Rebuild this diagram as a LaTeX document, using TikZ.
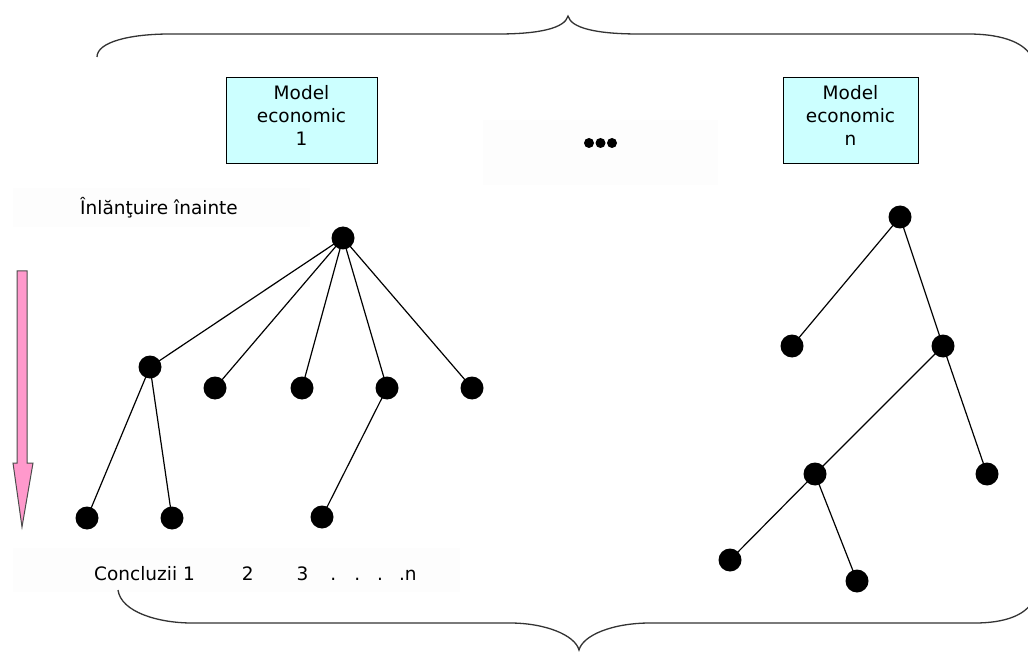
\documentclass[tikz,border=0pt]{standalone}
\usepackage{fontspec}
\setmainfont{DejaVu Sans}
\definecolor{boxcyan}{HTML}{CCFFFF}
\definecolor{arrowpink}{HTML}{FF99CC}
\definecolor{faint}{HTML}{FDFDFD}
\begin{document}
\begin{tikzpicture}[x=1pt,y=-1pt,
  modelbox/.style={draw=black,line width=0.9pt,fill=boxcyan,inner sep=0pt,
    minimum width=151pt,minimum height=86pt,align=center,text depth=10pt,
    font=\fontsize{18.5}{23}\selectfont},
  dot/.style={circle,fill=black,inner sep=0pt,minimum size=23pt},
  edge/.style={line width=1.2pt,black},
  brace/.style={line width=1.3pt,black!80},
  label/.style={font=\fontsize{18.5}{23}\selectfont,inner sep=0pt}]
\useasboundingbox (0,0) rectangle (1028,652);
\clip (0,0) rectangle (1028,652);

% faint label backgrounds
\fill[faint] (483,120) rectangle (718,185);
\fill[faint] (13,188) rectangle (310,227);
\fill[faint] (13,548) rectangle (460,592);

% braces
\draw[brace] (97,57) .. controls (97,42) and (130,34) .. (170,34) -- (498,34)
  .. controls (540,34) and (565,28) .. (568,16)
  .. controls (571,28) and (596,34) .. (639,34) -- (968,34)
  .. controls (1005,34) and (1026,44) .. (1032,58);
\draw[brace] (118,590) .. controls (121,612) and (158,623) .. (192,623) -- (510,623)
  .. controls (545,623) and (575,635) .. (579,650)
  .. controls (583,635) and (613,623) .. (650,623) -- (975,623)
  .. controls (1005,623) and (1025,615) .. (1032,602);

% model boxes
\node[modelbox] (m1) at (301.5,120) {Model\\economic\\1};
\node[modelbox,minimum width=135pt] (mn) at (850.5,120) {Model\\economic\\n};

% ellipsis between the models
\foreach \i/\xx in {1/589,2/600.5,3/612}
  \node[circle,fill=black,inner sep=0pt,minimum size=10pt] (e\i) at (\xx,143) {};

% direction label and arrow
\node[label,anchor=west] (fwd) at (80,208) {Înlănţuire înainte};
\filldraw[fill=arrowpink,draw=black!70,line width=1pt]
  (17,271) -- (27,271) -- (27,463) -- (33,463) -- (22,527) -- (13,463) -- (17,463) -- cycle;

% conclusions
\node[label,anchor=base west] (concl) at (94,580)
  {Concluzii 1\hspace{47pt}2\hspace{43pt}3\hspace{22pt}.\hspace{18pt}.\hspace{17pt}.\hspace{16pt}.n};

% tree of model 1
\node[dot] (a) at (343,238) {};
\node[dot] (a1) at (150,367) {};
\node[dot] (a2) at (215,388) {};
\node[dot] (a3) at (302,388) {};
\node[dot] (a4) at (387,388) {};
\node[dot] (a5) at (472,388) {};
\node[dot] (a11) at (87,518) {};
\node[dot] (a12) at (172,518) {};
\node[dot] (a41) at (322,517) {};
\foreach \c in {a1,a2,a3,a4,a5} \draw[edge] (a.center) -- (\c.center);
\draw[edge] (a1.center) -- (a11.center);
\draw[edge] (a1.center) -- (a12.center);
\draw[edge] (a4.center) -- (a41.center);

% tree of model n
\node[dot] (b) at (900,217) {};
\node[dot] (b1) at (792,346) {};
\node[dot] (b2) at (943,346) {};
\node[dot] (b21) at (815,474) {};
\node[dot] (b22) at (987,474) {};
\node[dot] (b211) at (730,560) {};
\node[dot] (b212) at (857,581) {};
\draw[edge] (b.center) -- (b1.center);
\draw[edge] (b.center) -- (b2.center);
\draw[edge] (b2.center) -- (b21.center);
\draw[edge] (b2.center) -- (b22.center);
\draw[edge] (b21.center) -- (b211.center);
\draw[edge] (b21.center) -- (b212.center);
\end{tikzpicture}
\end{document}
